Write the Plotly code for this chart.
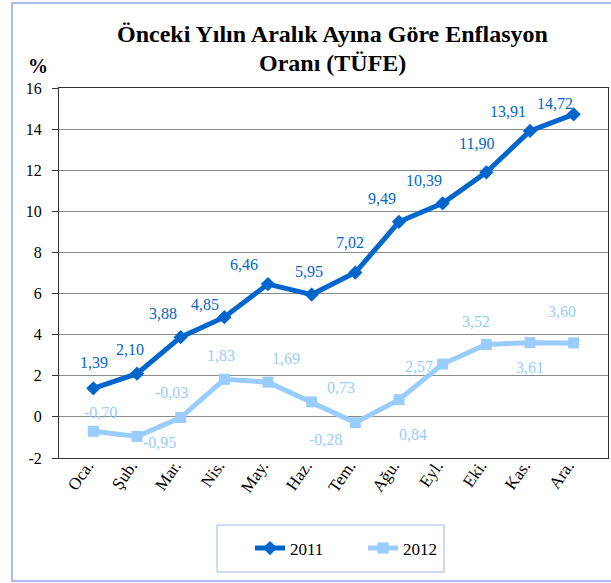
import plotly.graph_objects as go

months = ["Oca.", "Şub.", "Mar.", "Nis.", "May.", "Haz.", "Tem.", "Ağu.", "Eyl.", "Eki.", "Kas.", "Ara."]
values_2011 = [1.39, 2.10, 3.88, 4.85, 6.46, 5.95, 7.02, 9.49, 10.39, 11.90, 13.91, 14.72]
values_2012 = [-0.70, -0.95, -0.03, 1.83, 1.69, 0.73, -0.28, 0.84, 2.57, 3.52, 3.61, 3.60]
y_ticks = [-2, 0, 2, 4, 6, 8, 10, 12, 14, 16]
y_tick_labels = [str(v) for v in y_ticks]

# label offsets (pixels, dx right, dy down) – styling only
off_2011 = [(1, -26), (-7, -24), (-18, -24), (-19, -13), (-24, -20), (-3, -23),
            (-5, -30), (-17, -23), (-19, -23), (-10, -29), (-22, -19), (-19, -11)]
off_2012 = [(7, -19), (23, 6), (-9, -25), (-3, -24), (18, -24), (29, -14),
            (-30, 17), (14, 35), (-24, 2), (-10, -23), (0, 25), (-12, -31)]

C11 = "#0066CC"
C12 = "#99CCFF"
SERIF = "Liberation Serif, Times New Roman, serif"

# plot area in pixels
PL, PR, PT, PB = 59, 608, 88, 458
PW, PH = PR - PL, PB - PT


def px_x(x):
    return (x - PL) / PW


def px_y(y):
    return (PB - y) / PH


def fmt(v):
    return f"{v:.2f}".replace(".", ",")


fig = go.Figure()
fig.add_trace(go.Scatter(x=months, y=values_2011, name="2011", mode="lines+markers",
                         line=dict(color=C11, width=5),
                         marker=dict(symbol="diamond", size=11, color=C11)))
fig.add_trace(go.Scatter(x=months, y=values_2012, name="2012", mode="lines+markers",
                         line=dict(color=C12, width=5),
                         marker=dict(symbol="square", size=11, color=C12)))

annotations = []
for vals, offs, col in ((values_2011, off_2011, C11), (values_2012, off_2012, C12)):
    for m, v, (dx, dy) in zip(months, vals, offs):
        annotations.append(dict(x=m, y=v, xref="x", yref="y", text=fmt(v), showarrow=False,
                                xanchor="center", yanchor="middle", xshift=dx, yshift=-dy,
                                font=dict(family=SERIF, size=16, color=col)))

annotations.append(dict(x=px_x(38), y=px_y(66), xref="paper", yref="paper", text="<b>%</b>",
                        showarrow=False, xanchor="center", yanchor="middle",
                        font=dict(family=SERIF, size=20, color="black")))
annotations.append(dict(x=px_x(332), y=px_y(34), xref="paper", yref="paper",
                        text="<b>Önceki Yılın Aralık Ayına Göre Enflasyon</b>",
                        showarrow=False, xanchor="center", yanchor="middle",
                        font=dict(family=SERIF, size=24, color="black")))
annotations.append(dict(x=px_x(332), y=px_y(63), xref="paper", yref="paper",
                        text="<b>Oranı (TÜFE)</b>",
                        showarrow=False, xanchor="center", yanchor="middle",
                        font=dict(family=SERIF, size=24, color="black")))

fig.update_layout(
    template="none",
    width=611, height=583,
    margin=dict(l=PL, r=611 - PR, t=PT, b=583 - PB, autoexpand=False),
    paper_bgcolor="white", plot_bgcolor="white",
    font=dict(family=SERIF, size=16, color="black"),
    showlegend=True,
    legend=dict(orientation="h", x=px_x(250), y=px_y(548.5), xanchor="left", yanchor="middle",
                borderwidth=0, font=dict(family=SERIF, size=17),
                itemwidth=30, entrywidth=68, bgcolor="rgba(0,0,0,0)"),
    xaxis=dict(type="category", showgrid=False, showline=True, linecolor="#333333", linewidth=1,
               mirror=True, ticks="", tickangle=-55, automargin=False,
               ticklabelstandoff=-10, ticklabelshift=-6,
               tickfont=dict(family=SERIF, size=17)),
    yaxis=dict(range=[-2, 16], tickvals=y_ticks, ticktext=y_tick_labels, showgrid=True,
               gridcolor="#8a8a8a", gridwidth=1, zeroline=False, showline=True, automargin=False,
               linecolor="#333333", linewidth=1, mirror=True, ticks="outside", ticklen=6,
               tickcolor="#333333", tickfont=dict(family=SERIF, size=16), ticklabelstandoff=7),
    annotations=annotations,
    shapes=[dict(type="rect", xref="paper", yref="paper",
                 x0=px_x(12), x1=px_x(640), y0=px_y(581), y1=px_y(3),
                 line=dict(color="#8EA9F0", width=1.5)),
            dict(type="rect", xref="paper", yref="paper",
                 x0=px_x(217), x1=px_x(444), y0=px_y(572), y1=px_y(525),
                 line=dict(color="#9DB5F2", width=1))],
)

fig.write_html("out.html", config={"displayModeBar": False},
               post_script="document.body.style.margin='0';document.body.style.overflow='hidden';")
